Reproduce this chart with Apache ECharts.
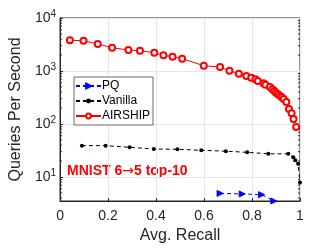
<!DOCTYPE html>
<html>
<head>
<meta charset="utf-8">
<script src="https://cdn.jsdelivr.net/npm/echarts@6/dist/echarts.min.js"></script>
<style>html,body{margin:0;padding:0;background:#fff}#c{width:332px;height:249px}</style>
</head>
<body>
<div id="c"></div>
<script>
const pqRecall = [0.667, 0.759, 0.840, 0.891];
const pqQps = [4.9, 4.78, 4.64, 3.52];

const vanillaRecall = [0.091, 0.190, 0.290, 0.391, 0.489, 0.589, 0.691, 0.780, 0.868, 0.951, 0.972, 0.980, 0.992, 1.0];
const vanillaQps = [39, 39, 36.3, 33.7, 33.3, 31.9, 30.6, 29.2, 27.4, 27.3, 23.5, 20.7, 17.8, 7.9];

const airshipRecall = [0.041, 0.098, 0.157, 0.217, 0.285, 0.333, 0.393, 0.431, 0.469, 0.509, 0.599, 0.667, 0.706, 0.745, 0.776, 0.797, 0.814, 0.824, 0.848, 0.856, 0.875, 0.885, 0.893, 0.900, 0.908, 0.916, 0.924, 0.932, 0.943, 0.954, 0.965, 0.973, 0.984];
const airshipQps = [3795, 3730, 3230, 2750, 2490, 2415, 2215, 1975, 1860, 1707, 1259, 1189, 1013, 890, 805, 748, 697, 648, 586, 552, 499, 452, 420, 390, 363, 342, 319, 296, 260, 192, 159, 124, 88];

const xTicks = [0, 0.2, 0.4, 0.6, 0.8, 1];
const yMinorTicks = [4, 5, 6, 7, 8, 9, 20, 30, 40, 50, 60, 70, 80, 90, 200, 300, 400, 500, 600, 700, 800, 900, 2000, 3000, 4000, 5000, 6000, 7000, 8000, 9000];
const yMin = 3.52, yMax = 10000;
const annotation = 'MNIST 6\u21925 top-10';

function zip(a, b) { return a.map((v, i) => [v, b[i]]); }
const font = 'Liberation Sans, Arial, Helvetica, sans-serif';
const axisColor = '#262626';

const chart = echarts.init(document.getElementById('c'));
chart.setOption({
  animation: false,
  backgroundColor: '#fff',
  grid: { left: 54, right: 32, top: 18, bottom: 48, show: true, borderColor: axisColor, borderWidth: 1, backgroundColor: 'transparent' },
  xAxis: {
    type: 'value', min: xTicks[0], max: xTicks[xTicks.length - 1], interval: 0.2,
    name: 'Avg. Recall', nameLocation: 'middle', nameGap: 27,
    nameTextStyle: { fontFamily: font, fontSize: 16, color: axisColor },
    axisLine: { lineStyle: { color: axisColor, width: 1 } },
    axisTick: { inside: true, length: 3, lineStyle: { color: axisColor } },
    axisLabel: { fontFamily: font, fontSize: 14, color: axisColor, margin: 8,
      formatter: v => (Math.abs(v - 1) < 1e-9 ? '1' : (v === 0 ? '0' : v.toFixed(1))) },
    splitLine: { show: true, lineStyle: { color: '#e6e6e6', width: 1 } }
  },
  yAxis: {
    type: 'log', logBase: 10, min: yMin, max: yMax,
    name: 'Queries Per Second', nameLocation: 'middle', nameGap: 34,
    nameTextStyle: { fontFamily: font, fontSize: 16, color: axisColor },
    axisLine: { show: true, lineStyle: { color: axisColor, width: 1 } },
    axisTick: { inside: true, length: 3, lineStyle: { color: axisColor } },
    axisLabel: {
      showMinLabel: false, margin: 4, fontFamily: font, fontSize: 14, color: axisColor,
      formatter: v => { const e = Math.round(Math.log10(v)); return '10{s|' + e + '}'; },
      rich: { s: { fontFamily: font, fontSize: 10, color: axisColor, verticalAlign: 'bottom', padding: [0, 0, 8, 0] } }
    },
    splitLine: { show: true, lineStyle: { color: '#e6e6e6', width: 1 } }
  },
  legend: {
    orient: 'vertical', left: 74, top: 77,
    backgroundColor: '#fff', borderColor: '#444', borderWidth: 0.8, borderRadius: 0,
    padding: [3, 3, 3, 1], itemGap: 3, itemWidth: 25, itemHeight: 6,
    textStyle: { fontFamily: font, fontSize: 12, color: '#000', padding: [0, 0, 0, -4], lineHeight: 11 },
    data: ['PQ', 'Vanilla', 'AIRSHIP']
  },
  graphic: [{
    type: 'text', left: 67, top: 164,
    style: {
      text: 'MNIST 6{a|\u2192}5 top-10', fill: '#ff0000', font: 'bold 14px ' + font,
      rich: { a: { fontFamily: 'DejaVu Sans', fontSize: 14, fontWeight: 'normal', fill: '#ff0000' } }
    }
  }],
  series: [
    {
      name: 'PQ', type: 'line', data: zip(pqRecall, pqQps), clip: false,
      symbol: 'triangle', symbolRotate: -90, symbolSize: 6,
      lineStyle: { color: '#0000ff', width: 1, type: [4, 3] },
      itemStyle: { color: '#0000ff', borderColor: '#0000ff', borderWidth: 1 }
    },
    {
      name: 'Vanilla', type: 'line', data: zip(vanillaRecall, vanillaQps), clip: false,
      symbol: 'circle', symbolSize: 4,
      lineStyle: { color: '#000', width: 1, type: [4, 3] },
      itemStyle: { color: '#000' }
    },
    {
      name: 'AIRSHIP', type: 'line', data: zip(airshipRecall, airshipQps), clip: false,
      symbol: 'emptyCircle', symbolSize: 6,
      lineStyle: { color: '#ff0000', width: 1 },
      itemStyle: { color: '#ff0000', borderWidth: 1 }
    },
    {
      name: 'minorTicks', type: 'custom', silent: true, legendHoverLink: false,
      data: yMinorTicks.map(v => [0, v]),
      renderItem: (params, api) => {
        const v = api.value(1);
        const l = api.coord([xTicks[0], v]);
        const r = api.coord([xTicks[xTicks.length - 1], v]);
        return {
          type: 'group', children: [
            { type: 'line', shape: { x1: l[0], y1: l[1], x2: l[0] + 2, y2: l[1] }, style: { stroke: axisColor, lineWidth: 1 } },
            { type: 'line', shape: { x1: r[0] - 2, y1: r[1], x2: r[0], y2: r[1] }, style: { stroke: axisColor, lineWidth: 1 } }
          ]
        };
      }
    }
  ]
});
</script>
</body>
</html>
